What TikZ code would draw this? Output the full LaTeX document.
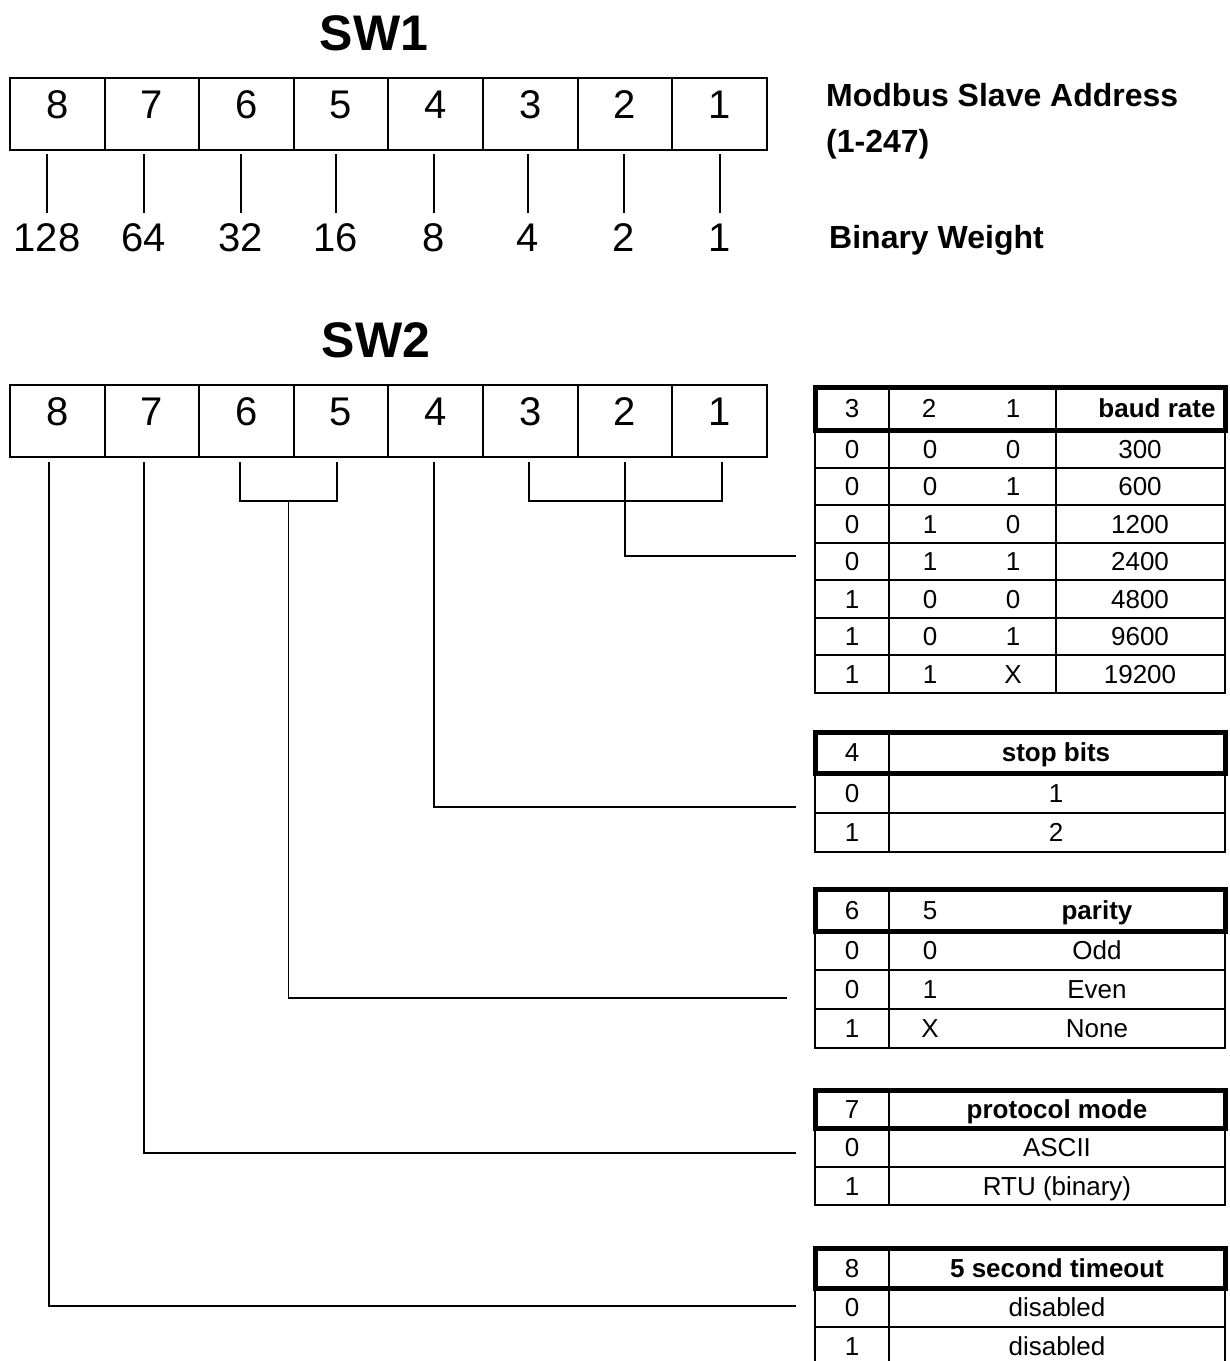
\documentclass[tikz,border=0pt]{standalone}
\usepackage{fontspec}
\setmainfont{Liberation Sans}
\usetikzlibrary{calc}
\begin{document}
\begin{tikzpicture}[x=1pt,y=-1pt,
  conn/.style={line width=1.8pt},
  swcell/.style={draw, line width=2pt, minimum width=94.6pt, minimum height=72pt, inner sep=0pt},
  bigdigit/.style={font=\fontsize{40}{48}\selectfont, inner sep=0pt, anchor=base},
  swtitle/.style={font=\fontsize{50}{60}\selectfont\bfseries, inner sep=0pt, anchor=base},
  side/.style={font=\fontsize{32}{38}\selectfont\bfseries, inner sep=0pt, anchor=base west},
  trow/.style={draw, line width=2pt, minimum width=410pt, inner sep=0pt},
  thead/.style={draw, line width=5pt, minimum width=410pt, inner sep=0pt},
  tt/.style={font=\fontsize{26}{31}\selectfont, inner sep=0pt, anchor=base},
  tb/.style={font=\fontsize{26}{31}\selectfont\bfseries, inner sep=0pt, anchor=base},
  divider/.style={line width=2pt}
]
\useasboundingbox (0,0) rectangle (1230,1361);
\fill[white] (0,0) rectangle (1230,1361);
\clip (0,0) rectangle (1230,1361);

% ---------------- SW1 ----------------
\node[swtitle] (sw1t) at (374,50) {SW1};
\foreach \i in {8,7,...,1} {
  \pgfmathsetmacro{\xc}{57.3+94.6*(8-\i)}
  \node[swcell] (s1c\i) at (\xc,114) {};
  \node[bigdigit] (s1d\i) at (\xc,118) {\i};
}
\foreach \i/\w/\x in {8/128/47,7/64/144,6/32/241,5/16/336,4/8/434,3/4/528,2/2/624,1/1/720} {
  \node[bigdigit] (w\i) at (\x,251) {\w};
  \draw[conn] ($(w\i.north |- s1c\i.south)+(0,3)$) -- ($(w\i.north)+(0,-10)$);
}
\node[side] (modbus) at (826,106) {Modbus Slave Address};
\node[side] (range) at (826,152) {(1-247)};
\node[side] (binw) at (829,248) {Binary Weight};

% ---------------- SW2 ----------------
\node[swtitle] (sw2t) at (376,357) {SW2};
\foreach \i in {8,7,...,1} {
  \pgfmathsetmacro{\xc}{57.3+94.6*(8-\i)}
  \node[swcell] (s2c\i) at (\xc,421) {};
  \node[bigdigit] (s2d\i) at (\xc,425) {\i};
}
\foreach \i/\dx in {8/-8.7,7/-7.9,6/-6.5,5/-4.1,4/-1.7,3/-1.3,2/0.1,1/2.5}
  \coordinate (q\i) at ($(s2c\i.south)+(\dx,4)$);

% ---------------- baud rate table ----------------
\foreach \i/\a/\b/\c/\r in {1/0/0/0/300,2/0/0/1/600,3/0/1/0/1200,4/0/1/1/2400,5/1/0/0/4800,6/1/0/1/9600,7/1/1/X/19200} {
  \pgfmathsetmacro{\yc}{430+37.57*(\i-0.5)}
  \node[trow, minimum height=37.57pt] (bd\i) at (1020,\yc) {};
  \node[tt] (bd\i a) at (852,\yc+9.3) {\a};
  \node[tt] (bd\i b) at (930,\yc+9.3) {\b};
  \node[tt] (bd\i c) at (1013,\yc+9.3) {\c};
  \node[tt] (bd\i r) at (1140,\yc+9.3) {\r};
}
\draw[divider] (889,408) -- (889,693);
\draw[divider] (1056,408) -- (1056,693);
\node[thead, minimum height=43pt] (bdh) at (1020,408.5) {};
\draw[divider] (889,387) -- (889,430);
\draw[divider] (1056,387) -- (1056,430);
\node[tt] (bdh3) at (852,417) {3};
\node[tt] (bdh2) at (929,417) {2};
\node[tt] (bdh1) at (1013,417) {1};
\node[tb] (bdhr) at (1157,417) {baud rate};

% ---------------- stop bits table ----------------
\foreach \i/\a/\r in {1/0/1,2/1/2} {
  \pgfmathsetmacro{\yc}{773+39.5*(\i-0.5)}
  \node[trow, minimum height=39.5pt] (st\i) at (1020,\yc) {};
  \node[tt] (st\i a) at (852,\yc+9.3) {\a};
  \node[tt] (st\i r) at (1056,\yc+9.3) {\r};
}
\draw[divider] (889,732) -- (889,852);
\node[thead, minimum height=41pt] (sth) at (1020,752.5) {};
\node[tt] (sth4) at (852,761.8) {4};
\node[tb] (sthr) at (1056,761.8) {stop bits};

% ---------------- parity table ----------------
\foreach \i/\a/\b/\r in {1/0/0/Odd,2/0/1/Even,3/1/X/None} {
  \pgfmathsetmacro{\yc}{931+39*(\i-0.5)}
  \node[trow, minimum height=39pt] (pa\i) at (1020,\yc) {};
  \node[tt] (pa\i a) at (852,\yc+9.3) {\a};
  \node[tt] (pa\i b) at (930,\yc+9.3) {\b};
  \node[tt] (pa\i r) at (1097,\yc+9.3) {\r};
}
\draw[divider] (889,889) -- (889,1048);
\node[thead, minimum height=42pt] (pah) at (1020,910) {};
\node[tt] (pah6) at (852,919.3) {6};
\node[tt] (pah5) at (930,919.3) {5};
\node[tb] (pahr) at (1097,919.3) {parity};

% ---------------- protocol mode table ----------------
\foreach \i/\a/\r in {1/0/ASCII,2/1/RTU (binary)} {
  \pgfmathsetmacro{\yc}{1128+38.5*(\i-0.5)}
  \node[trow, minimum height=38.5pt] (pr\i) at (1020,\yc) {};
  \node[tt] (pr\i a) at (852,\yc+9.3) {\a};
  \node[tt] (pr\i r) at (1057,\yc+9.3) {\r};
}
\draw[divider] (889,1090) -- (889,1205);
\node[thead, minimum height=38pt] (prh) at (1020,1109) {};
\node[tt] (prh7) at (852,1118.3) {7};
\node[tb] (prhr) at (1057,1118.3) {protocol mode};

% ---------------- timeout table ----------------
\foreach \i/\a/\r in {1/0/disabled,2/1/disabled} {
  \pgfmathsetmacro{\yc}{1288+39*(\i-0.5)}
  \node[trow, minimum height=39pt] (to\i) at (1020,\yc) {};
  \node[tt] (to\i a) at (852,\yc+9.3) {\a};
  \node[tt] (to\i r) at (1057,\yc+9.3) {\r};
}
\draw[divider] (889,1248) -- (889,1366);
\node[thead, minimum height=40pt] (toh) at (1020,1268) {};
\node[tt] (toh8) at (852,1277.3) {8};
\node[tb] (tohr) at (1057,1277.3) {5 second timeout};

% ---------------- connectors ----------------
\coordinate (tbaud) at ($(bd4.west)+(-18,-5.5)$);
\coordinate (tstop) at ($(st1.west)+(-18,14)$);
\coordinate (tpar)  at ($(pa2.west)+(-27,8.5)$);
\coordinate (tprot) at ($(pr1.west)+(-18,6)$);
\coordinate (ttime) at ($(to1.west)+(-18,-1.5)$);
\coordinate (b31) at ($(q2)+(0,39)$);
\coordinate (b65) at ($(q6)!0.5!(q5)+(0,39)$);

\draw[conn] (q3) |- (b31) -| (q1);
\draw[conn] (q2) |- (tbaud);
\draw[conn] (q4) |- (tstop);
\draw[conn] (q6) |- (b65) -| (q5);
\draw[conn] (b65) |- (tpar);
\draw[conn] (q7) |- (tprot);
\draw[conn] (q8) |- (ttime);
\end{tikzpicture}
\end{document}
